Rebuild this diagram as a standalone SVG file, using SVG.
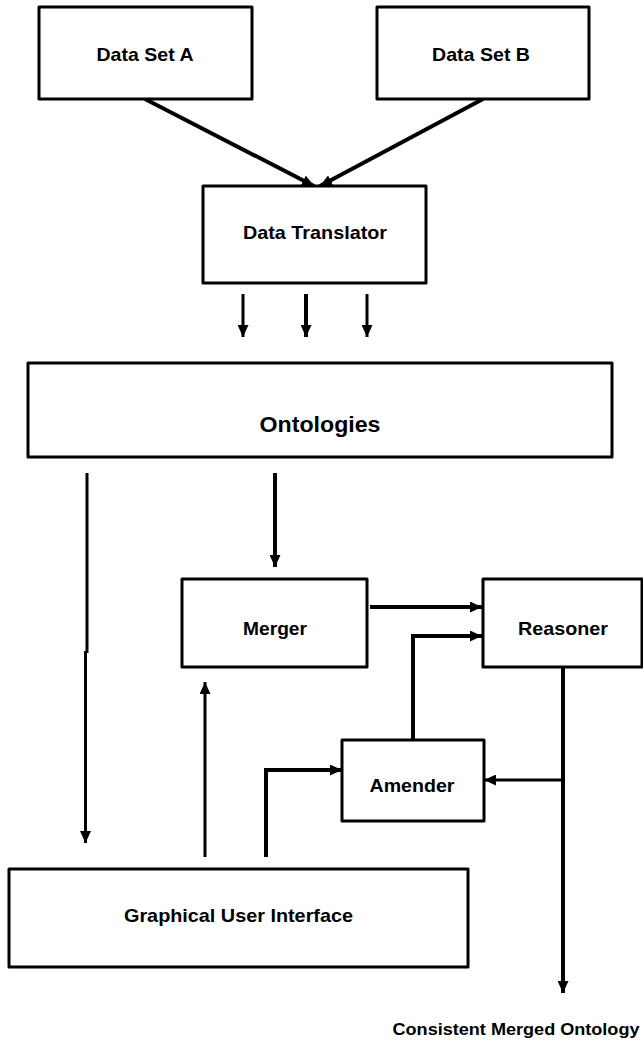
<svg xmlns="http://www.w3.org/2000/svg" width="643" height="1040" viewBox="0 0 643 1040">
<style>
.box{fill:#fff;stroke:#000;stroke-width:3;stroke-linejoin:round}
.lbl{font-family:"Liberation Sans",Arial,sans-serif;font-weight:bold;font-size:19px;fill:#000;text-anchor:middle}
.c{fill:none;stroke:#000;stroke-width:4}
.t{fill:none;stroke:#000;stroke-width:3}
</style>
<defs>
<marker id="ah" markerUnits="userSpaceOnUse" markerWidth="12" markerHeight="11" refX="12" refY="5.5" orient="auto">
<path d="M0,0 L12,5.5 L0,11 z" fill="#000"/>
</marker>
</defs>
<rect width="643" height="1040" fill="#fff"/>
<g id="connectors">
<path class="c" d="M145,99 L314,186" marker-end="url(#ah)"/>
<path class="c" d="M483,99 L320,186" marker-end="url(#ah)"/>
<path class="t" d="M243,294 V337" marker-end="url(#ah)"/>
<path class="c" d="M306,294 V337" marker-end="url(#ah)"/>
<path class="t" d="M367,294 V337" marker-end="url(#ah)"/>
<path class="c" d="M275,473 V567" marker-end="url(#ah)"/>
<path class="t" d="M87,473 V653"/>
<path class="t" d="M85.5,651 V843" marker-end="url(#ah)"/>
<path class="t" d="M205,857 V682" marker-end="url(#ah)"/>
<path class="c" d="M266,857 V770 H342" marker-end="url(#ah)"/>
<path class="c" d="M370,607 H482" marker-end="url(#ah)"/>
<path class="c" d="M413,740 V636 H482" marker-end="url(#ah)"/>
<path class="c" d="M563,667 V993" marker-end="url(#ah)"/>
<path class="t" d="M563,780 H484" marker-end="url(#ah)"/>
</g>
<g id="dataSetA"><rect class="box" x="39" y="7" width="213" height="92"/><text class="lbl" x="145" y="61" textLength="97" lengthAdjust="spacingAndGlyphs">Data Set A</text></g>
<g id="dataSetB"><rect class="box" x="377" y="7" width="212" height="92"/><text class="lbl" x="481" y="61" textLength="98" lengthAdjust="spacingAndGlyphs">Data Set B</text></g>
<g id="dataTranslator"><rect class="box" x="203" y="186" width="223" height="97"/><text class="lbl" x="315" y="239" textLength="144" lengthAdjust="spacingAndGlyphs">Data Translator</text></g>
<g id="ontologies"><rect class="box" x="28" y="363" width="584" height="94"/><text class="lbl" x="320" y="432" style="font-size:22px" textLength="121" lengthAdjust="spacingAndGlyphs">Ontologies</text></g>
<g id="merger"><rect class="box" x="182" y="579" width="185" height="88"/><text class="lbl" x="275" y="635" textLength="64" lengthAdjust="spacingAndGlyphs">Merger</text></g>
<g id="reasoner"><rect class="box" x="483" y="579" width="159" height="88"/><text class="lbl" x="563" y="635" textLength="90" lengthAdjust="spacingAndGlyphs">Reasoner</text></g>
<g id="amender"><rect class="box" x="342" y="740" width="142" height="81"/><text class="lbl" x="412" y="792" textLength="85" lengthAdjust="spacingAndGlyphs">Amender</text></g>
<g id="gui"><rect class="box" x="9" y="869" width="459" height="98"/><text class="lbl" x="238.5" y="922" textLength="229" lengthAdjust="spacingAndGlyphs">Graphical User Interface</text></g>
<g id="output"><text class="lbl" x="516" y="1035" style="font-size:17px" textLength="247" lengthAdjust="spacingAndGlyphs">Consistent Merged Ontology</text></g>
</svg>
